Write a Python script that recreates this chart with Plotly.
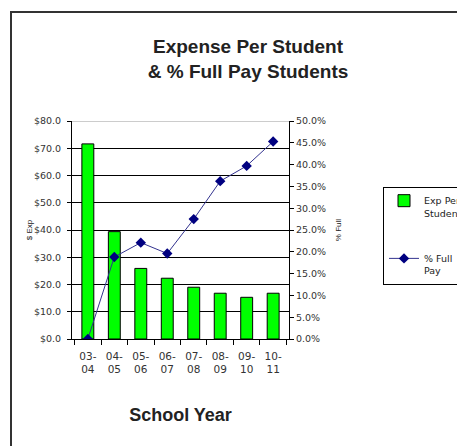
import plotly.graph_objects as go

years = ["03-<br>04", "04-<br>05", "05-<br>06", "06-<br>07",
         "07-<br>08", "08-<br>09", "09-<br>10", "10-<br>11"]
exp_per_student = [71.6, 39.4, 25.9, 22.3, 19.0, 16.8, 15.3, 16.8]
pct_full_pay = [0.0, 0.188, 0.221, 0.196, 0.275, 0.362, 0.397, 0.453]

# page has an 8px body margin, so the figure is 8px smaller than the window
W, H = 457, 438
L, T, PW, PH = 64, 113, 217, 218

tick_font = dict(family="DejaVu Sans, sans-serif", size=9.5, color="#333")

fig = go.Figure()

fig.add_trace(go.Bar(
    x=years, y=exp_per_student,
    name="Exp Per<br>Student",
    marker=dict(color="#00ff00", line=dict(color="#000", width=1)),
    width=0.45,
    legendgroup="a",
))

fig.add_trace(go.Scatter(
    x=years, y=pct_full_pay,
    name="% Full<br>Pay",
    yaxis="y2",
    mode="lines+markers",
    line=dict(color="#33338f", width=1),
    marker=dict(symbol="diamond", size=8, color="#000080"),
    legendgroup="b",
))

fig.update_layout(
    width=W, height=H,
    margin=dict(l=L, r=W - L - PW, t=T, b=H - T - PH, autoexpand=False),
    paper_bgcolor="white",
    plot_bgcolor="white",
    font=dict(family="Arial, Liberation Sans, sans-serif", color="#222"),
    title=dict(
        text="<b>Expense Per Student<br>& % Full Pay Students</b>",
        x=240 / W, xanchor="center",
        y=1 - 45 / H, yanchor="middle",
        font=dict(size=19, color="#222"),
    ),
    xaxis=dict(
        showline=True, linecolor="#000", linewidth=1,
        ticks="outside", ticklen=5, tickcolor="#000",
        tickson="boundaries",
        ticklabelstandoff=7,
        tickfont=dict(family="DejaVu Sans, sans-serif", size=10.5, color="#333"),
        title=dict(text="<b>School Year</b>", font=dict(size=18, color="#222"), standoff=34),
    ),
    yaxis=dict(
        range=[0, 80], dtick=10,
        tickprefix="$", tickformat=".1f",
        showline=True, linecolor="#000", linewidth=1,
        ticks="outside", ticklen=4, tickcolor="#000",
        ticklabelstandoff=4,
        showgrid=True, gridcolor="#000", gridwidth=1,
        zeroline=False,
        tickfont=tick_font,
        title=dict(text="$ Exp", font=dict(size=8, color="#222"), standoff=0),
    ),
    yaxis2=dict(
        range=[0, 0.5], dtick=0.05,
        tickformat=".1%",
        overlaying="y", side="right",
        showline=True, linecolor="#000", linewidth=1,
        ticks="outside", ticklen=4, tickcolor="#000",
        showgrid=False, zeroline=False,
        tickfont=tick_font,
        title=dict(text="% Full", font=dict(size=8, color="#222"), standoff=10),
    ),
    legend=dict(
        x=(375 - L) / PW, xanchor="left",
        y=(T + PH - 179) / PH, yanchor="top",
        bordercolor="#000", borderwidth=1,
        font=dict(family="DejaVu Sans, sans-serif", size=9.5, color="#222"),
        traceorder="grouped", tracegroupgap=30,
        itemwidth=30, valign="top",
    ),
    shapes=[
        dict(type="line", xref="paper", yref="y", x0=0, x1=1, y0=80, y1=80,
             line=dict(color="#999", width=1)),
        dict(type="rect", xref="paper", yref="paper",
             x0=(3 - L) / PW, x1=1.9, y0=-1, y1=1 + (T - 4) / PH,
             line=dict(color="#333", width=2)),
    ],
)

fig.write_html("out.html")
